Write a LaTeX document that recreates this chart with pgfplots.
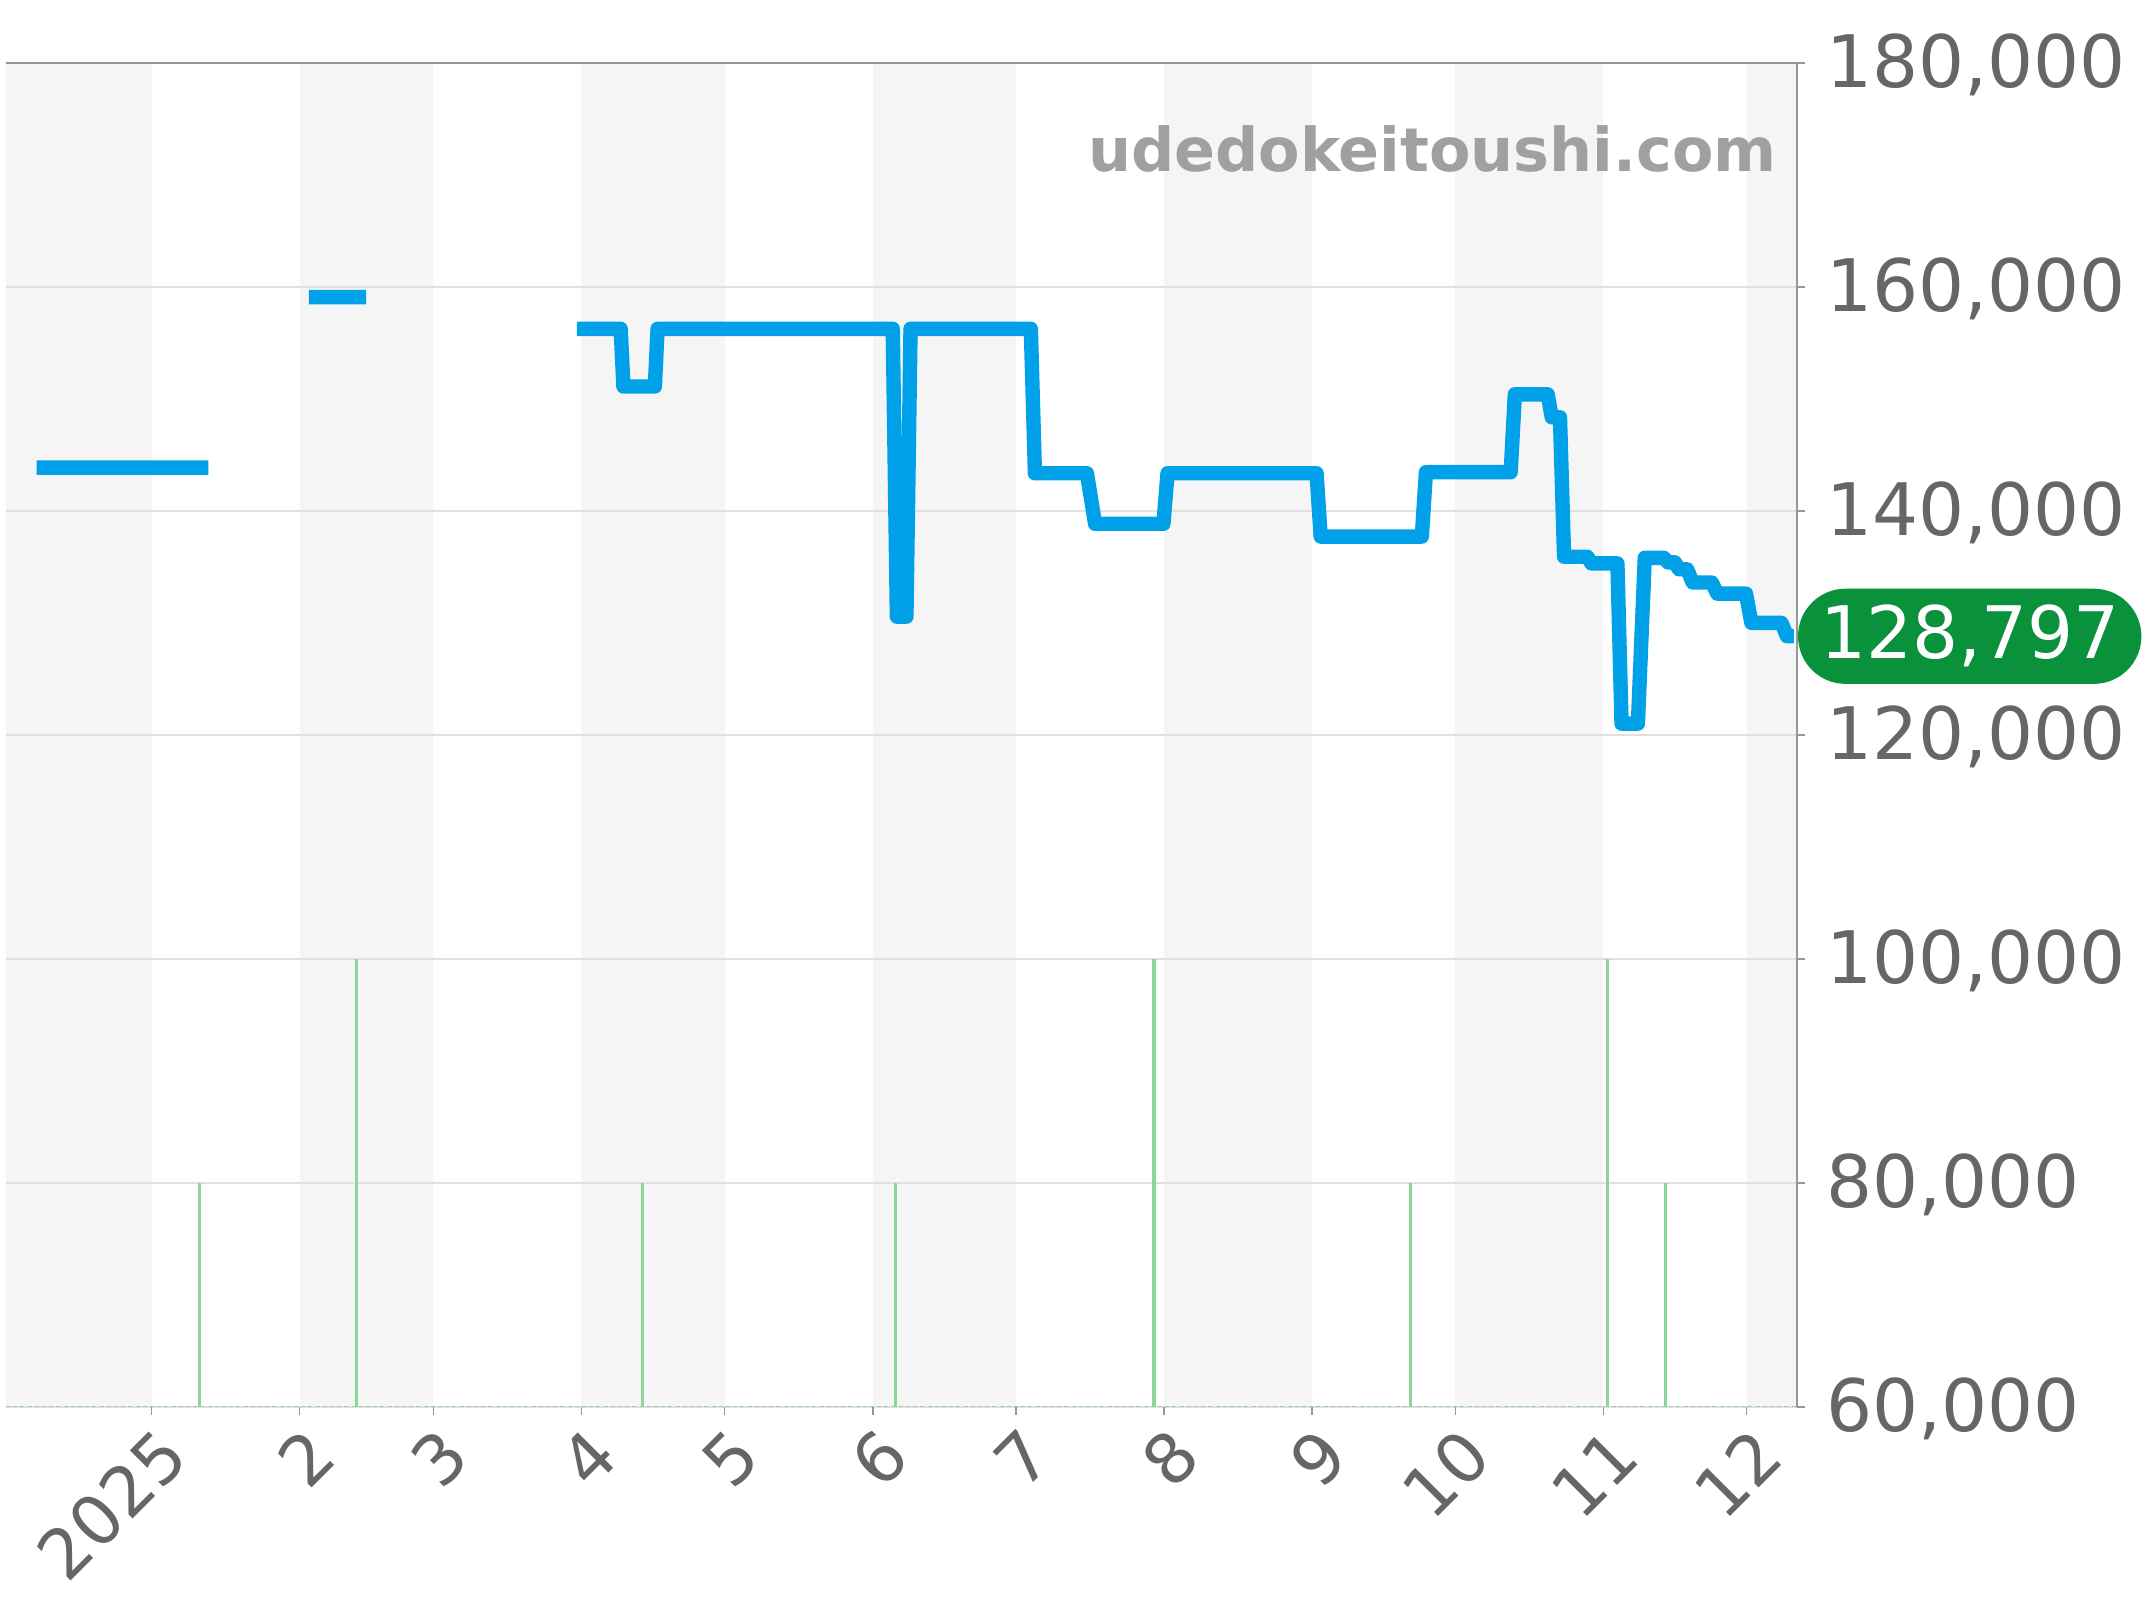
\documentclass[border=0pt]{standalone}
\usepackage{fontspec}
\setmainfont{DejaVu Sans}
\usepackage{pgfplots}
\pgfplotsset{compat=1.18}
\definecolor{linecol}{RGB}{0,161,233}
\definecolor{bandcol}{RGB}{245,245,245}
\definecolor{gridcol}{RGB}{224,224,224}
\definecolor{axcol}{RGB}{150,150,150}
\definecolor{labcol}{RGB}{102,102,102}
\definecolor{volcol}{RGB}{140,214,152}
\definecolor{badgecol}{RGB}{9,145,60}
\definecolor{wmcol}{RGB}{160,160,160}
\begin{document}
\begin{tikzpicture}
\begin{axis}[
  set layers,
  scale only axis,
  width=447.8pt, height=336pt,
  xmin=-30.5, xmax=344.6,
  ymin=60000, ymax=180000,
  clip mode=individual,
  axis line style={draw=none},
  xtick={0,31,59,90,120,151,181,212,243,273,304,334},
  xticklabels={2025,2,3,4,5,6,7,8,9,10,11,12},
  ytick={60000,80000,100000,120000,140000,160000,180000},
  yticklabels={{60,000},{80,000},{100,000},{120,000},{140,000},{160,000},{180,000}},
  xtick pos=left, ytick pos=right,
  yticklabel pos=right,
  tick align=outside,
  major tick length=2pt,
  tick style={axcol, line width=0.4pt},
  ymajorgrids,
  grid style={gridcol, line width=0.35pt},
  scaled y ticks=false,
  ticklabel style={font=\fontsize{18.1}{22}\selectfont, text=labcol},
  yticklabel style={anchor=west, inner xsep=0pt, xshift=5.1pt, yshift=-0.5pt},
  xticklabel style={font=\fontsize{17.2}{21}\selectfont, xshift=5.6pt, yshift=-6.9pt, anchor=east, inner sep=0pt, rotate=45},
]
\begin{pgfonlayer}{axis background}
\fill[bandcol] (axis cs:-30.5,60000) rectangle (axis cs:0,180000);
\fill[bandcol] (axis cs:31,60000) rectangle (axis cs:59,180000);
\fill[bandcol] (axis cs:90,60000) rectangle (axis cs:120,180000);
\fill[bandcol] (axis cs:151,60000) rectangle (axis cs:181,180000);
\fill[bandcol] (axis cs:212,60000) rectangle (axis cs:243,180000);
\fill[bandcol] (axis cs:273,60000) rectangle (axis cs:304,180000);
\fill[bandcol] (axis cs:334,60000) rectangle (axis cs:344.6,180000);
\end{pgfonlayer}

\addplot[volcol, line width=0.8pt, ycomb, mark=none] coordinates {
(10.0,80000) (42.95,100000) (102.8,80000) (155.8,80000)
(209.9,100000) (263.7,80000) (304.95,100000) (317.0,80000)
};
\addplot[volcol, line width=0.5pt, dash pattern=on 1pt off 0.8pt, mark=none] coordinates {(-30.5,60000) (344.6,60000)};

\addplot[linecol, line width=3.6pt, line join=round, line cap=butt, mark=none, unbounded coords=jump] coordinates {
(-24.1,143850) (11.9,143850) (20,nan)
(32.9,159080) (44.9,159080) (60,nan)
(89.06,156250) (98.22,156250) (98.8,151100) (105.38,151100) (105.95,156250)
(155.2,156250) (156.06,130550) (158.06,130550) (158.92,156250)
(184.11,156250) (184.97,143350) (195.85,143350) (197.57,138840) (211.88,138840)
(212.74,143350) (243.95,143350) (244.81,137700) (265.99,137700)
(266.85,143450) (284.6,143450) (285.47,150400) (292.34,150400)
(293.2,148350) (294.92,148350) (295.78,135900) (300.65,135900)
(301.51,135300) (306.95,135300) (307.81,121000) (311.24,121000)
(311.82,127000) (312.68,135800) (316.69,135800) (317.54,135400)
(318.97,135400) (319.83,134780) (321.55,134780) (322.7,133600)
(326.71,133600) (327.85,132600) (333.87,132600) (335.01,130000)
(341.31,130000) (342.45,128797) (343.9,128797)
};

\draw[axcol, line width=0.45pt] (rel axis cs:0,1) -- ([xshift=2pt]rel axis cs:1,1);
\draw[axcol, line width=0.45pt] (rel axis cs:1,0) -- (rel axis cs:1,1);

\node[anchor=base east, inner sep=0pt, font=\bfseries\fontsize{15.1}{18}\selectfont, text=wmcol]
  at ([xshift=-5pt, yshift=-27.2pt]rel axis cs:1,1) {udedokeitoushi.com};

\node[overlay, fill=badgecol, text=white, rounded corners=11.9pt, minimum height=23.8pt,
  inner xsep=5.5pt, inner ysep=0pt, anchor=west, font=\fontsize{18.1}{22}\selectfont]
  at (axis cs:344.6,128797) {128,797};
\end{axis}
\path (-1.5pt,-48.3pt) rectangle (534.5pt,351.7pt);
\end{tikzpicture}
\end{document}
